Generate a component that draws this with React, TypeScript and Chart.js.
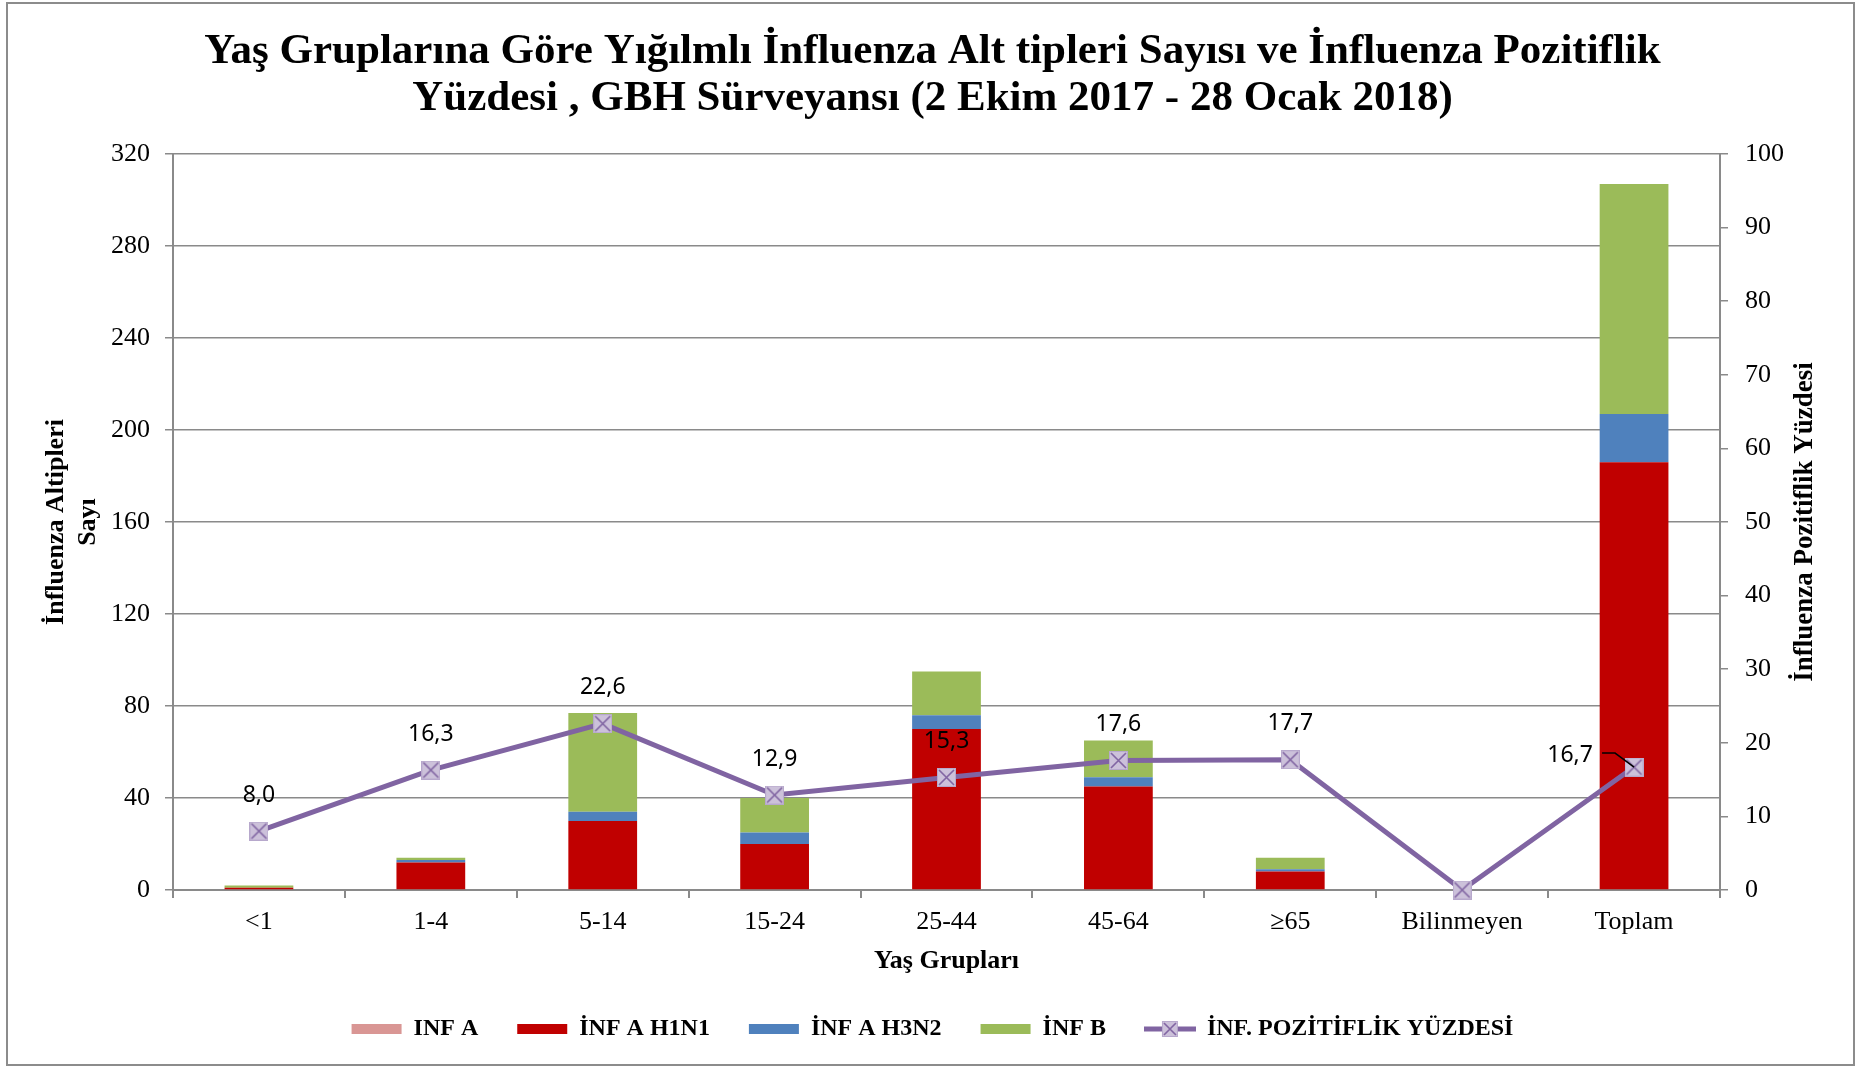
import React, { useEffect, useRef } from 'react';
import { Chart, registerables } from 'chart.js';

Chart.register(...registerables);

// ---- Data ----
const categories = ['<1', '1-4', '5-14', '15-24', '25-44', '45-64', '≥65', 'Bilinmeyen', 'Toplam'];
const infA = [0, 0, 0, 0, 0, 0, 0, 0, 0];
const infAH1N1 = [1, 12, 30, 20, 70, 45, 8, 0, 186];
const infAH3N2 = [0, 1, 4, 5, 6, 4, 1, 0, 21];
const infB = [1, 1, 43, 15, 19, 16, 5, 0, 100];
const positivity = [8.0, 16.3, 22.6, 12.9, 15.3, 17.6, 17.7, 0, 16.7];

const seriesLabels = ['INF A', 'İNF A H1N1', 'İNF A H3N2', 'İNF B', 'İNF. POZİTİFLİK YÜZDESİ'];
const seriesColors = ['#D99694', '#C00000', '#4F81BD', '#9BBB59', '#8064A2'];

const titleLines = [
  'Yaş Gruplarına Göre Yığılmlı İnfluenza Alt tipleri Sayısı ve İnfluenza Pozitiflik',
  'Yüzdesi , GBH Sürveyansı (2 Ekim 2017 - 28 Ocak 2018)',
];
const xTitle = 'Yaş Grupları';
const leftTitle = ['İnfluenza Altipleri', 'Sayı'];
const rightTitle = 'İnfluenza Pozitiflik Yüzdesi';
const leftMax = 320;
const leftStep = 40;
const rightMax = 100;
const rightStep = 10;

const GRID = '#8a8a8a';
const SERIF = 'Liberation Serif';

function makeMarker(size: number): HTMLCanvasElement {
  const c = document.createElement('canvas');
  c.width = size;
  c.height = size;
  const g = c.getContext('2d')!;
  g.fillStyle = '#CCC1DA';
  g.fillRect(0, 0, size, size);
  g.strokeStyle = '#B7A8CC';
  g.lineWidth = 1;
  g.strokeRect(0.5, 0.5, size - 1, size - 1);
  g.strokeStyle = '#8064A2';
  g.lineWidth = 1.6;
  g.beginPath();
  g.moveTo(2, 2);
  g.lineTo(size - 2, size - 2);
  g.moveTo(size - 2, 2);
  g.lineTo(2, size - 2);
  g.stroke();
  return c;
}

function makeLegendLine(w: number, h: number): HTMLCanvasElement {
  const c = document.createElement('canvas');
  c.width = w;
  c.height = h;
  const g = c.getContext('2d')!;
  g.strokeStyle = '#8064A2';
  g.lineWidth = 5;
  g.beginPath();
  g.moveTo(0, h / 2);
  g.lineTo(w, h / 2);
  g.stroke();
  const m = makeMarker(h);
  g.drawImage(m, (w - h) / 2, 0);
  return c;
}

const borderPlugin = {
  id: 'outerBorder',
  beforeDraw(chart: any) {
    const { ctx, width, height } = chart;
    ctx.save();
    ctx.fillStyle = '#ffffff';
    ctx.fillRect(0, 0, width, height);
    ctx.strokeStyle = '#8c8c8c';
    ctx.lineWidth = 2;
    ctx.strokeRect(7, 3, 1847, 1062);
    ctx.restore();
  },
};

// Right axis title, read bottom-to-top like the left one
const rightTitlePlugin = {
  id: 'rightTitle',
  afterDraw(chart: any) {
    const { ctx, chartArea } = chart;
    const s = chart.scales.y1;
    ctx.save();
    ctx.translate(s.right - 60, (chartArea.top + chartArea.bottom) / 2);
    ctx.rotate(-Math.PI / 2);
    ctx.font = `bold 27px "${SERIF}"`;
    ctx.fillStyle = '#000';
    ctx.textAlign = 'center';
    ctx.textBaseline = 'middle';
    ctx.fillText(rightTitle, 0, 0);
    ctx.restore();
  },
};

const lineLabelPlugin = {
  id: 'lineLabels',
  afterDatasetsDraw(chart: any) {
    const { ctx } = chart;
    const meta = chart.getDatasetMeta(4);
    ctx.save();
    ctx.font = '23px "Noto Sans"';
    ctx.fillStyle = '#000';
    ctx.textAlign = 'center';
    ctx.textBaseline = 'middle';
    const last = positivity.length - 1;
    meta.data.forEach((pt: any, i: number) => {
      const v = positivity[i];
      if (!v) return;
      const txt = v.toFixed(1).replace('.', ',');
      if (i === last) {
        const lx = pt.x - 64;
        const ly = pt.y - 12;
        ctx.fillText(txt, lx, ly);
        ctx.strokeStyle = '#000';
        ctx.lineWidth = 1.5;
        ctx.beginPath();
        ctx.moveTo(lx + 32, ly - 2);
        ctx.lineTo(lx + 45, ly - 2);
        ctx.lineTo(pt.x, pt.y);
        ctx.stroke();
      } else {
        ctx.fillText(txt, pt.x, pt.y - 36);
      }
    });
    ctx.restore();
  },
};

export default function App() {
  const ref = useRef<HTMLCanvasElement | null>(null);

  useEffect(() => {
    if (!ref.current) return;
    const marker = makeMarker(19);
    const legendLine = makeLegendLine(52, 16);
    const barData = [infA, infAH1N1, infAH3N2, infB];

    const chart = new Chart(ref.current, {
      type: 'bar',
      data: {
        labels: categories,
        datasets: [
          ...barData.map((d, i) => ({
            type: 'bar' as const,
            label: seriesLabels[i],
            data: d,
            backgroundColor: seriesColors[i],
            borderWidth: 0,
            yAxisID: 'y',
            stack: 's',
            order: 1,
            barPercentage: 0.4,
            categoryPercentage: 1,
          })),
          {
            type: 'line' as const,
            label: seriesLabels[4],
            data: positivity,
            borderColor: seriesColors[4],
            backgroundColor: seriesColors[4],
            borderWidth: 5,
            pointStyle: marker as any,
            pointRadius: 10,
            yAxisID: 'y1',
            order: 0,
            tension: 0,
            clip: false,
          },
        ],
      },
      options: {
        responsive: false,
        animation: false,
        devicePixelRatio: 1,
        layout: { padding: { left: 0, right: 0, top: 0, bottom: 15 } },
        plugins: {
          tooltip: { enabled: false },
          title: {
            display: true,
            text: titleLines,
            color: '#000',
            font: { family: SERIF, size: 43, weight: 'bold', lineHeight: 1.1 },
            padding: { top: 28, bottom: 31.4 },
          },
          legend: {
            position: 'bottom',
            labels: {
              usePointStyle: true,
              pointStyleWidth: 50,
              boxHeight: 10,
              padding: 39,
              color: '#000',
              font: { family: SERIF, size: 24, weight: 'bold' },
              generateLabels: () =>
                seriesLabels.map((t, i) => ({
                  text: t,
                  fillStyle: seriesColors[i],
                  strokeStyle: seriesColors[i],
                  lineWidth: 0,
                  pointStyle: i === 4 ? (legendLine as any) : 'rect',
                  rotation: 0,
                  hidden: false,
                  datasetIndex: i,
                })),
            },
          },
        },
        scales: {
          x: {
            stacked: true,
            offset: true,
            grid: {
              display: true,
              drawOnChartArea: false,
              drawTicks: true,
              tickLength: 8,
              color: GRID,
              lineWidth: 2,
              offset: true,
            },
            border: { display: true, color: GRID, width: 2 },
            ticks: {
              color: '#000',
              font: { family: SERIF, size: 26 },
              padding: 9,
              maxRotation: 0,
              autoSkip: false,
            },
            title: {
              display: true,
              text: xTitle,
              color: '#000',
              font: { family: SERIF, size: 26, weight: 'bold', lineHeight: 1.2 },
              padding: { top: 0, bottom: 1 },
            },
            afterFit: (s: any) => {
              s.height = 88;
            },
          },
          y: {
            stacked: true,
            position: 'left',
            min: 0,
            max: leftMax,
            ticks: {
              stepSize: leftStep,
              color: '#000',
              font: { family: SERIF, size: 26 },
              padding: 15,
            },
            grid: { color: GRID, lineWidth: 1.5, tickLength: 8, drawTicks: true },
            border: { display: true, color: GRID, width: 2 },
            title: {
              display: true,
              text: leftTitle,
              color: '#000',
              font: { family: SERIF, size: 26, weight: 'bold', lineHeight: 1.2 },
              padding: { top: 41, bottom: 0 },
            },
            afterFit: (s: any) => {
              s.width = 173;
            },
          },
          y1: {
            position: 'right',
            min: 0,
            max: rightMax,
            ticks: {
              stepSize: rightStep,
              color: '#000',
              font: { family: SERIF, size: 26 },
              padding: 17,
            },
            grid: { drawOnChartArea: false, color: GRID, lineWidth: 1.5, tickLength: 8, drawTicks: true },
            border: { display: true, color: GRID, width: 2 },
            title: { display: false },
            afterFit: (s: any) => {
              s.width = 145;
            },
          },
        },
      } as any,
      plugins: [borderPlugin, lineLabelPlugin, rightTitlePlugin],
    });
    return () => chart.destroy();
  }, []);

  return (
    <div style={{ position: 'absolute', left: 0, top: 0, width: 1865, height: 1066 }}>
      <canvas ref={ref} width={1865} height={1066} style={{ display: 'block', width: 1865, height: 1066 }} />
    </div>
  );
}
